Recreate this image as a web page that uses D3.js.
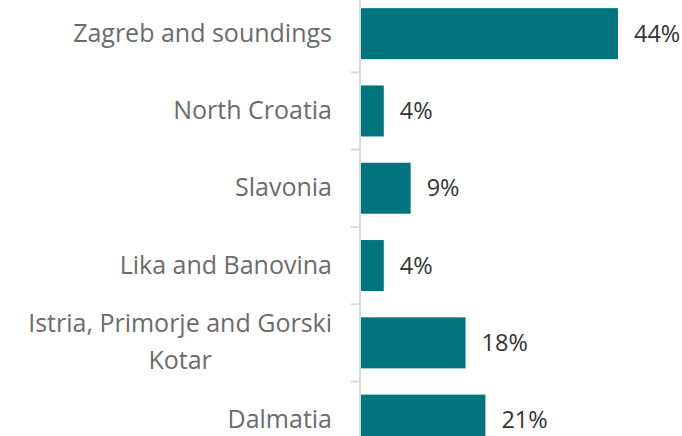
<!DOCTYPE html>
<html>
<head>
<meta charset="utf-8">
<script src="https://cdn.jsdelivr.net/npm/d3@7"></script>
<style>
  body { margin: 0; background: #fff; }
  svg { display: block; }
  .cat { font-family: "Open Sans", sans-serif; font-size: 25px; fill: #6b6b6b; }
  .val { font-family: "Open Sans", sans-serif; font-size: 23.5px; fill: #333; }
</style>
</head>
<body>
<script>
// regions and share of respondents (%)
var regions = ["Zagreb and soundings", "North Croatia", "Slavonia",
               "Lika and Banovina", "Istria, Primorje and Gorski Kotar", "Dalmatia"];
var shares = [44, 3.9, 8.5, 3.9, 17.9, 21.3];
var shareLabels = ["44%", "4%", "9%", "4%", "18%", "21%"];

function wrap(text, width) {
  text.each(function() {
    var t = d3.select(this),
        words = t.text().split(/\s+/).reverse(),
        word, line = [], lines = [];
    var probe = t.text(null).append("tspan");
    while ((word = words.pop())) {
      line.push(word);
      probe.text(line.join(" "));
      if (probe.node().getComputedTextLength() > width && line.length > 1) {
        line.pop();
        lines.push(line.join(" "));
        line = [word];
      }
    }
    lines.push(line.join(" "));
    probe.remove();
    var x = +t.attr("x"), lh = 37, base = 8;
    var off = -(lines.length - 1) * lh / 2;
    // multi-line labels are centred inside a right-aligned block
    var widths = lines.map(function(l) {
      var s = t.append("tspan").text(l);
      var w = s.node().getComputedTextLength();
      s.remove();
      return w;
    });
    var maxW = d3.max(widths);
    lines.forEach(function(l, i) {
      t.append("tspan")
        .attr("x", lines.length > 1 ? x - maxW / 2 : x)
        .attr("text-anchor", lines.length > 1 ? "middle" : "end")
        .attr("y", +t.attr("y") + base + off + i * lh)
        .text(l);
    });
  });
}

function makeChart() {
  var width = 682, height = 436;
  var x0 = 361;

  var svg = d3.select("body").append("svg")
              .attr("width", width)
              .attr("height", height);

  var y = d3.scaleBand()
            .domain(regions)
            .range([-5, -5 + 6 * 77.3])
            .paddingInner(0.34)
            .paddingOuter(0.17);

  var x = d3.scaleLinear()
            .domain([0, 50])
            .range([x0, x0 + 292]);

  var data = regions.map(function(r, i) { return {region: r, share: shares[i], label: shareLabels[i]}; });

  // bars
  svg.selectAll(".bar")
     .data(data)
     .enter().append("rect")
       .attr("class", "bar")
       .attr("x", x(0))
       .attr("y", function(d) { return y(d.region); })
       .attr("width", function(d) { return x(d.share) - x(0); })
       .attr("height", y.bandwidth())
       .attr("fill", "#00757e");

  // value labels
  svg.selectAll(".val")
     .data(data)
     .enter().append("text")
       .attr("class", "val")
       .attr("x", function(d) { return x(d.share) + 16; })
       .attr("y", function(d) { return y(d.region) + y.bandwidth() / 2; })
       .attr("dy", "0.35em")
       .text(function(d) { return d.label; });

  // axis line and ticks between categories
  var step = y.step();
  var bounds = regions.map(function(r) { return y(r) - y.paddingInner() * step / 2; });
  bounds.push(bounds[bounds.length - 1] + step);

  svg.append("line")
     .attr("x1", x0 - 1).attr("x2", x0 - 1)
     .attr("y1", 0).attr("y2", height)
     .attr("stroke", "#d9d9d9")
     .attr("stroke-width", 2);

  svg.selectAll(".tick")
     .data(bounds)
     .enter().append("line")
       .attr("class", "tick")
       .attr("x1", x0 - 10).attr("x2", x0 - 1)
       .attr("y1", function(d) { return d; })
       .attr("y2", function(d) { return d; })
       .attr("stroke", "#d9d9d9")
       .attr("stroke-width", 2);

  // category labels
  svg.selectAll(".cat")
     .data(data)
     .enter().append("text")
       .attr("class", "cat")
       .attr("x", 332)
       .attr("y", function(d) { return y(d.region) + y.bandwidth() / 2; })
       .attr("text-anchor", "end")
       .text(function(d) { return d.region; })
       .call(wrap, 315);
}

window.onload = function() {
  makeChart();
};
</script>
</body>
</html>
